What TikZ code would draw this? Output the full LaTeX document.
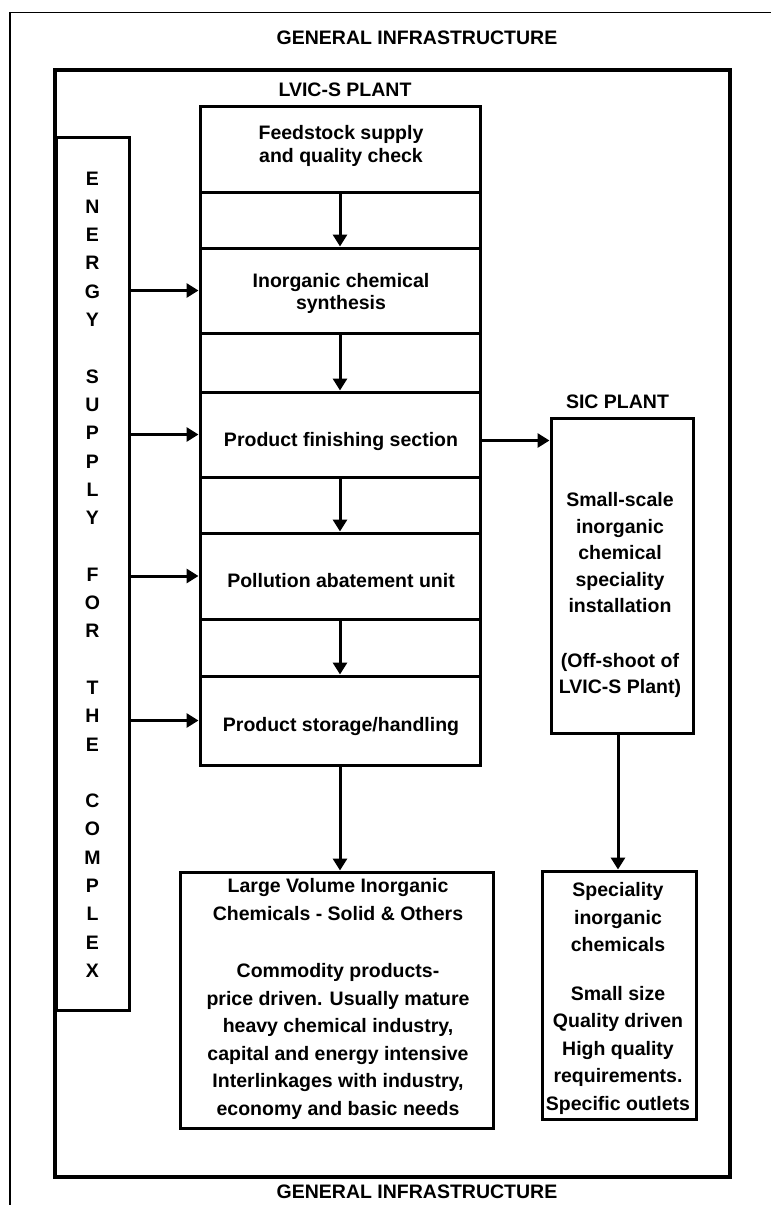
\documentclass[tikz,border=0pt]{standalone}
\usepackage{fontspec}
\setmainfont{Liberation Sans}
\usetikzlibrary{arrows.meta}
\begin{document}
\begin{tikzpicture}[x=1pt,y=-1pt,
  box/.style={draw, line width=3pt, rectangle, inner sep=0pt},
  txt/.style={font=\bfseries\fontsize{19.5}{22.5}\selectfont, align=center, inner sep=0pt},
  txtb/.style={font=\bfseries\fontsize{19.5}{27.5}\selectfont, align=center, inner sep=0pt},
  arr/.style={line width=3pt, -{Triangle[length=12pt,width=14pt]}}]
\useasboundingbox (0,0) rectangle (771,1205);
% outer frame (thin, runs off the page to the right and bottom)
\coordinate (fTR) at (771,12.5);
\coordinate (fTL) at (10,12.5);
\coordinate (fBL) at (10,1205);
\draw[line width=1.3pt] (fTR) -- (fTL) -- (fBL);
\node[txt] (gitop) at (417,38) {GENERAL INFRASTRUCTURE};
\node[txt] (gibot) at (417,1192) {GENERAL INFRASTRUCTURE};
% complex box
\node[box, line width=3.3pt, minimum width=675pt, minimum height=1107pt] (complex) at (392.5,623.5) {};
\node[txt] (lvicl) at (345,90) {LVIC-S PLANT};
% energy column
\node[box, minimum width=73pt, minimum height=873pt] (energy) at (92.5,573.5) {};
\node[font=\bfseries\fontsize{19.5}{28.3}\selectfont, align=center, inner sep=0pt] (energyt) at (92.5,574.5)
 {E\\N\\E\\R\\G\\Y\\[28.3pt]S\\U\\P\\P\\L\\Y\\[28.3pt]F\\O\\R\\[28.3pt]T\\H\\E\\[28.3pt]C\\O\\M\\P\\L\\E\\X};
% process column
\node[box, minimum width=280pt, minimum height=86pt] (feed) at (340,149) {};
\node[box, minimum width=280pt, minimum height=56pt] (gap1) at (340,220) {};
\node[box, minimum width=280pt, minimum height=85pt] (inorg) at (340,290.5) {};
\node[box, minimum width=280pt, minimum height=59pt] (gap2) at (340,362.5) {};
\node[box, minimum width=280pt, minimum height=85pt] (finish) at (340,434.5) {};
\node[box, minimum width=280pt, minimum height=56pt] (gap3) at (340,505) {};
\node[box, minimum width=280pt, minimum height=86pt] (poll) at (340,576) {};
\node[box, minimum width=280pt, minimum height=57pt] (gap4) at (340,647.5) {};
\node[box, minimum width=280pt, minimum height=89pt] (store) at (340,720.5) {};
\node[txt] (feedt) at (341,146) {Feedstock supply\\and quality check};
\node[txt] (inorgt) at (341,293.5) {Inorganic chemical\\synthesis};
\node[txt] (finisht) at (341,441) {Product finishing section};
\node[txt] (pollt) at (341,581) {Pollution abatement unit};
\node[txt] (storet) at (341,726) {Product storage/handling};
% SIC plant
\node[txt] (sicl) at (617.5,402) {SIC PLANT};
\node[box, minimum width=142pt, minimum height=315pt] (sic) at (622,575.5) {};
\node[txtb, font=\bfseries\fontsize{19.5}{26.5}\selectfont] (sict) at (620,595)
 {Small-scale\\inorganic\\chemical\\speciality\\installation\\[28pt](Off-shoot of\\LVIC-S Plant)};
% product boxes
\node[box, minimum width=313pt, minimum height=256pt] (large) at (336.5,1000) {};
\node[txtb] (larget) at (338,999)
 {Large Volume Inorganic\\Chemicals - Solid \& Others\\[30pt]Commodity products-\\price driven. Usually mature\\heavy chemical industry,\\capital and energy intensive\\Interlinkages with industry,\\economy and basic needs};
\node[box, minimum width=154pt, minimum height=248pt] (spec) at (619,995) {};
\node[txtb] (spect) at (618,998.5)
 {Speciality\\inorganic\\chemicals\\[21pt]Small size\\Quality driven\\High quality\\requirements.\\Specific outlets};
% arrows down the column
\draw[arr] (feed.south) -- (inorg.north);
\draw[arr] (inorg.south) -- (finish.north);
\draw[arr] (finish.south) -- (poll.north);
\draw[arr] (poll.south) -- (store.north);
% energy arrows
\draw[arr] (energy.east |- inorg.west) -- (inorg.west);
\draw[arr] (energy.east |- finish.west) -- (finish.west);
\draw[arr] (energy.east |- poll.west) -- (poll.west);
\draw[arr] (energy.east |- store.west) -- (store.west);
% to SIC plant
\coordinate (fe) at ([yshift=-6pt]finish.east);
\draw[arr] (fe) -- (sic.west |- fe);
% to products
\coordinate (ss) at ([xshift=-4pt]sic.south);
\draw[arr] (store.south) -- (store.south |- large.north);
\draw[arr] (ss) -- (ss |- spec.north);
\end{tikzpicture}
\end{document}
